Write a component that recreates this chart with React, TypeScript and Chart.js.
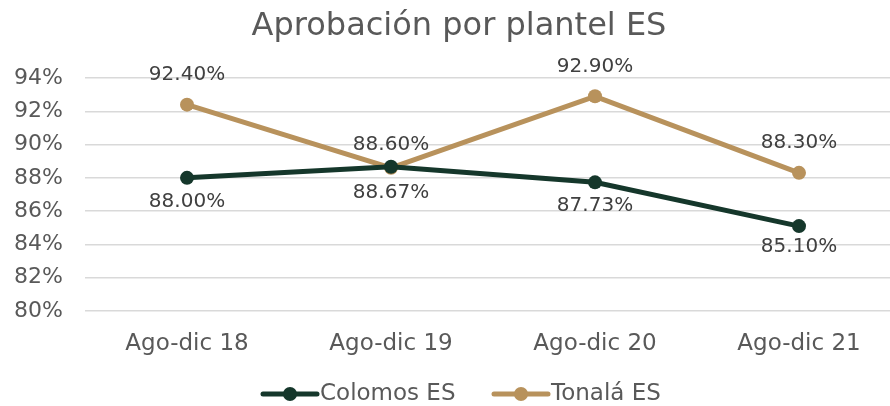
import React, { useEffect, useRef } from "react";
import { Chart, registerables } from "chart.js";

Chart.register(...registerables);

const title = "Aprobación por plantel ES";
const categories = ["Ago-dic 18", "Ago-dic 19", "Ago-dic 20", "Ago-dic 21"];
const seriesNames = ["Colomos ES", "Tonalá ES"];
const colomosValues = [88.0, 88.67, 87.73, 85.1];
const tonalaValues = [92.4, 88.6, 92.9, 88.3];
const yTicks = [80, 82, 84, 86, 88, 90, 92, 94];

const COLOMOS = "#15372b";
const TONALA = "#b8925c";
const FONT = "'DejaVu Sans', sans-serif";
const TEXT = "#595959";
// label vertical offsets (px) per series/point
const labelOffsets = [
  [24, 26, 23, 21],
  [-30, -23, -30, -30],
];

export default function App() {
  const ref = useRef<HTMLCanvasElement | null>(null);
  useEffect(() => {
    document.body.style.margin = "0";
    const canvas = ref.current!;
    const labelPlugin = {
      id: "custom",
      afterDatasetsDraw(chart: any) {
        const ctx = chart.ctx;
        ctx.save();
        ctx.font = `20px ${FONT}`;
        ctx.fillStyle = "#404040";
        ctx.textAlign = "center";
        ctx.textBaseline = "middle";
        chart.data.datasets.forEach((ds: any, i: number) => {
          const meta = chart.getDatasetMeta(i);
          meta.data.forEach((pt: any, j: number) => {
            const v = ds.data[j] as number;
            ctx.fillText(v.toFixed(2) + "%", pt.x, pt.y + labelOffsets[i][j]);
          });
        });
        // title
        ctx.font = `32px ${FONT}`;
        ctx.fillStyle = TEXT;
        ctx.fillText(title, 459, 27);
        // legend
        const items = [
          { name: seriesNames[0], color: COLOMOS, x: 263 },
          { name: seriesNames[1], color: TONALA, x: 494 },
        ];
        const ly = 394;
        ctx.font = `23px ${FONT}`;
        ctx.textAlign = "left";
        items.forEach((it) => {
          ctx.strokeStyle = it.color;
          ctx.lineWidth = 5;
          ctx.lineCap = "round";
          ctx.beginPath();
          ctx.moveTo(it.x, ly);
          ctx.lineTo(it.x + 54, ly);
          ctx.stroke();
          ctx.fillStyle = it.color;
          ctx.beginPath();
          ctx.arc(it.x + 27, ly, 7, 0, Math.PI * 2);
          ctx.fill();
          ctx.fillStyle = TEXT;
          ctx.fillText(it.name, it.x + 57, ly);
        });
        ctx.restore();
      },
    };
    const chart = new Chart(canvas, {
      type: "line",
      data: {
        labels: categories,
        datasets: [
          {
            label: seriesNames[0],
            data: colomosValues,
            borderColor: COLOMOS,
            backgroundColor: COLOMOS,
            borderWidth: 5,
            pointRadius: 7,
            pointBackgroundColor: COLOMOS,
            pointBorderWidth: 0,
            tension: 0,
          },
          {
            label: seriesNames[1],
            data: tonalaValues,
            borderColor: TONALA,
            backgroundColor: TONALA,
            borderWidth: 5,
            pointRadius: 7,
            pointBackgroundColor: TONALA,
            pointBorderWidth: 0,
            tension: 0,
          },
        ],
      },
      options: {
        responsive: false,
        animation: false,
        layout: { padding: { top: 78, left: 8, right: 0, bottom: 0 } },
        plugins: {
          legend: { display: false },
          title: { display: false },
          tooltip: { enabled: false },
        },
        scales: {
          x: {
            offset: true,
            grid: { display: false, drawTicks: false },
            border: { display: false },
            ticks: { color: TEXT, font: { family: FONT, size: 23 }, padding: 19 },
            afterFit: (s: any) => {
              s.height = 95;
            },
          },
          y: {
            min: 80,
            max: 94,
            afterBuildTicks: (s: any) => {
              s.ticks = yTicks.map((v) => ({ value: v }));
            },
            grid: { color: "#d9d9d9", lineWidth: 1.5, drawTicks: false },
            border: { display: false },
            ticks: {
              color: TEXT,
              font: { family: FONT, size: 22 },
              padding: 22,
              callback: (v: any) => v + "%",
            },
            afterFit: (s: any) => {
              s.width = 77;
            },
          },
        },
      },
      plugins: [labelPlugin],
    });
    return () => chart.destroy();
  }, []);
  return (
    <div style={{ width: 890, height: 406, overflow: "hidden", background: "#fff" }}>
      <canvas ref={ref} width={908} height={406} />
    </div>
  );
}
